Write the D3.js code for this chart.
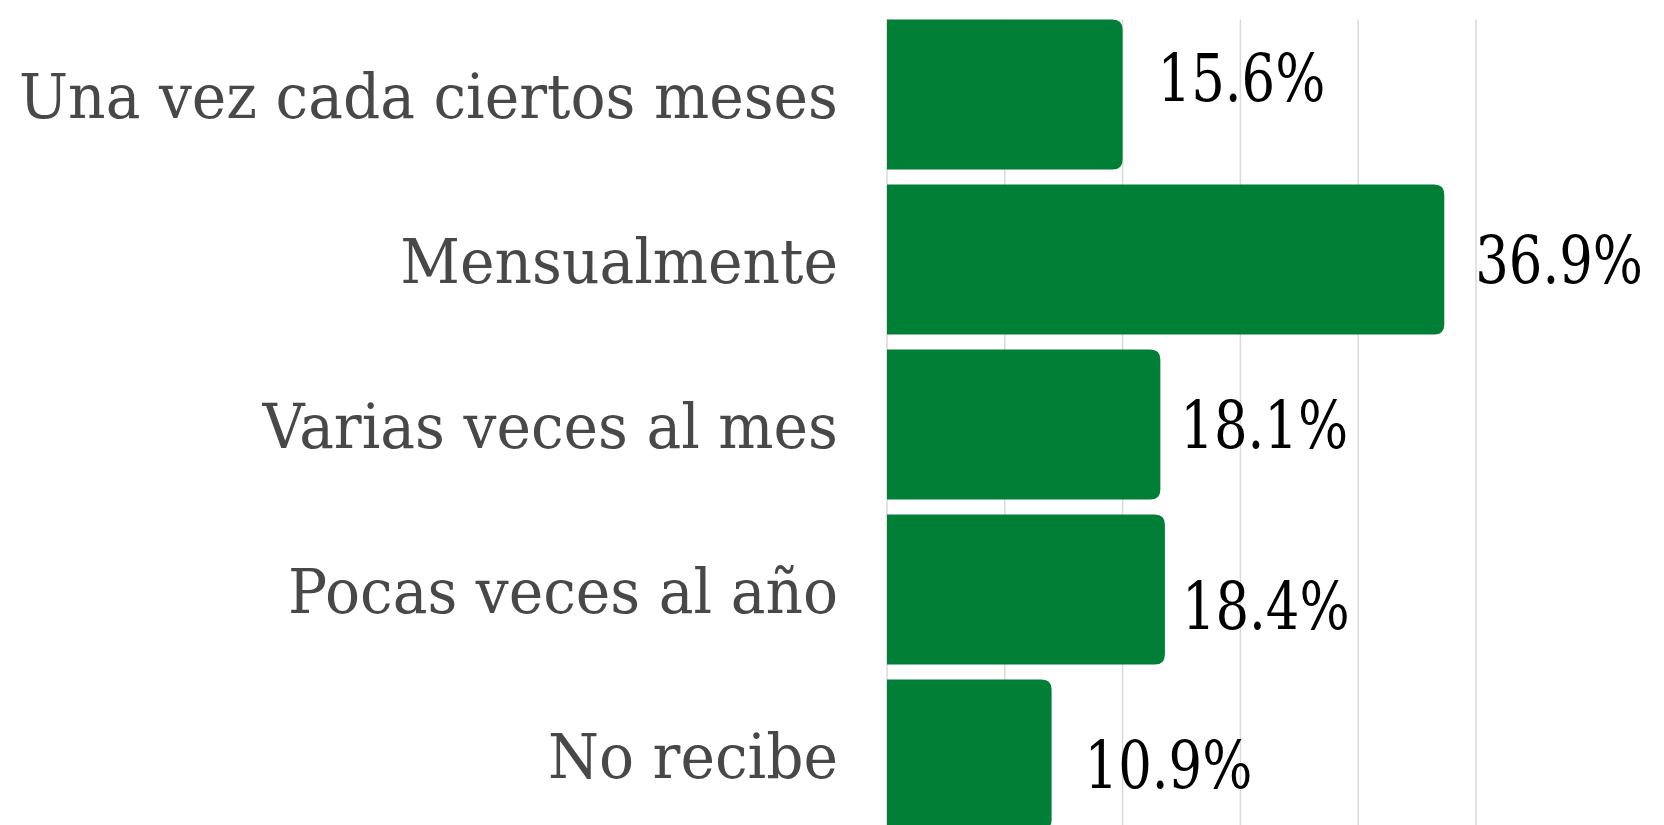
<!DOCTYPE html>
<html>
<head>
<meta charset="utf-8">
<script src="https://cdn.jsdelivr.net/npm/d3@7"></script>
<style>
	body { margin: 0; background: #fff; }
	svg { display: block; }
</style>
</head>
<body>
<div class="chart"></div>
<script>
var WIDTH = 1664,
	HEIGHT = 825;

// data
var categories = ["Una vez cada ciertos meses", "Mensualmente", "Varias veces al mes", "Pocas veces al año", "No recibe"];
var values = [15.6, 36.9, 18.1, 18.4, 10.9];
var gridTicks = [0, 7.8, 15.6, 23.4, 31.2, 39];

// hand nudges for the value labels (they are not all placed the same way)
var labelDx = [37, 33, 22, 19, 35],
	labelDy = [-18, -1, -1, 15, 9];

var LEFT = 887,
	TOP = 19.5,
	STEP = 165,
	GAP = 15,
	RADIUS = 10,
	GREEN = "#017f37",
	FONT = "'DejaVu Serif', serif";

var svg = d3.select(".chart").append("svg")
	.attr("width", WIDTH)
	.attr("height", HEIGHT);

var xScale = d3.scaleLinear()
	.domain([0, 39])
	.range([LEFT, LEFT + 589]);

var yScale = d3.scaleBand()
	.domain(categories)
	.range([TOP, TOP + STEP * categories.length - GAP])
	.paddingInner(GAP / STEP)
	.paddingOuter(0);

// vertical gridlines
svg.append("g")
	.selectAll("line")
	.data(gridTicks)
	.enter()
	.append("line")
	.attr("x1", function(d) { return xScale(d) })
	.attr("x2", function(d) { return xScale(d) })
	.attr("y1", TOP)
	.attr("y2", HEIGHT + 10)
	.attr("stroke", "#d9d9d9")
	.attr("stroke-width", 1.5);

// bars, rounded on the right only
var barPath = function(d, i) {
	var x0 = xScale(0), x1 = xScale(d),
		y0 = yScale(categories[i]), h = yScale.bandwidth(),
		r = Math.min(RADIUS, (x1 - x0) / 2);
	return "M" + x0 + "," + y0 +
		"H" + (x1 - r) +
		"Q" + x1 + "," + y0 + " " + x1 + "," + (y0 + r) +
		"V" + (y0 + h - r) +
		"Q" + x1 + "," + (y0 + h) + " " + (x1 - r) + "," + (y0 + h) +
		"H" + x0 + "Z";
}

svg.append("g")
	.selectAll("path")
	.data(values)
	.enter()
	.append("path")
	.attr("d", barPath)
	.attr("fill", GREEN);

// category labels (DejaVu is wider than the original face, so squeeze it a bit)
svg.append("g")
	.selectAll("text")
	.data(categories)
	.enter()
	.append("text")
	.attr("transform", function(d) {
		return "translate(838," + (yScale(d) + yScale.bandwidth() / 2 + 23) + ") scale(0.94,1)";
	})
	.attr("text-anchor", "end")
	.attr("font-family", FONT)
	.attr("font-size", 62)
	.attr("fill", "#484848")
	.text(function(d) { return d });

// value labels
svg.append("g")
	.selectAll("text")
	.data(values)
	.enter()
	.append("text")
	.attr("transform", function(d, i) {
		var x = xScale(d) + labelDx[i] - 2,
			y = yScale(categories[i]) + yScale.bandwidth() / 2 + 24 + labelDy[i];
		return "translate(" + x + "," + y + ") scale(0.8,1)";
	})
	.attr("font-family", FONT)
	.attr("font-size", 66)
	.attr("fill", "#000")
	.text(function(d) { return d.toFixed(1) + "%" });
</script>
</body>
</html>
